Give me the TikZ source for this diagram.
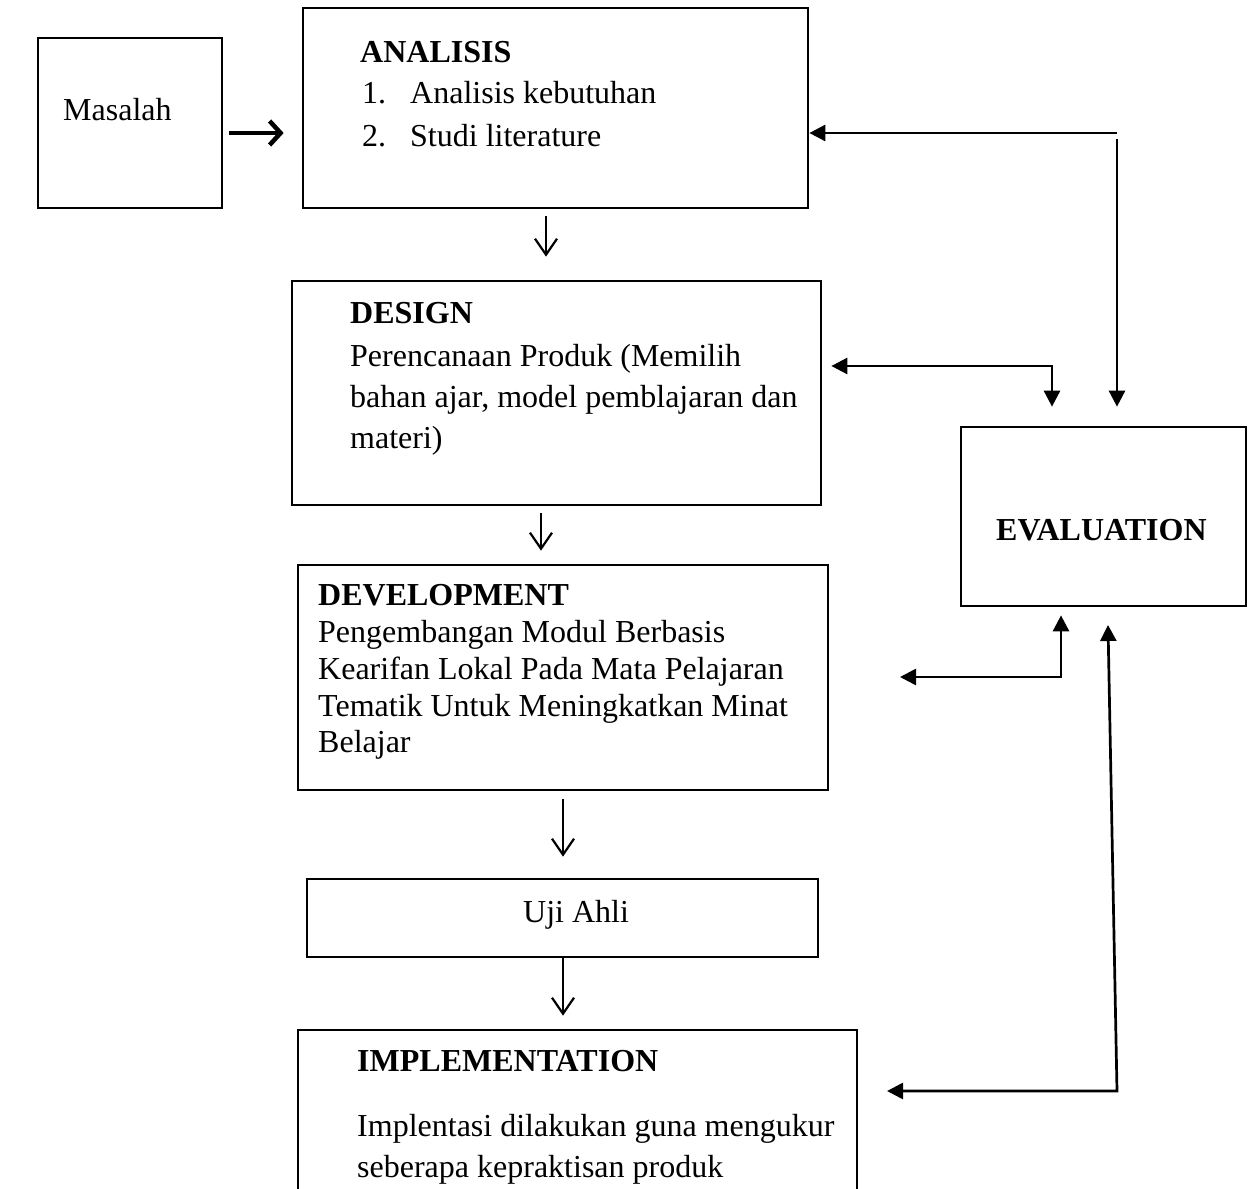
\documentclass[tikz,border=0pt]{standalone}
\usepackage{fontspec}
\setmainfont{Liberation Serif}
\usetikzlibrary{arrows.meta,calc}
\begin{document}
\begin{tikzpicture}[x=1pt,y=-1pt,
  box/.style={draw, line width=2.7pt, inner sep=0pt},
  txt/.style={anchor=base west, inner sep=0pt, font=\fontsize{32}{38}\selectfont},
  btxt/.style={anchor=base west, inner sep=0pt, font=\fontsize{32}{38}\selectfont\bfseries},
  conn/.style={line width=2.7pt},
  tri/.style={conn, -{Triangle[length=16pt,width=16pt]}},
  tritwo/.style={conn, {Triangle[length=16pt,width=16pt]}-{Triangle[length=16pt,width=16pt]}},
  downarr/.style={line width=2.2pt, -{Straight Barb[length=16pt,width=22pt,line width=2.2pt]}},
  boldarr/.style={line width=4pt, -{Straight Barb[length=11pt,width=24pt,line width=4.5pt]}}
]
\clip (0,0) rectangle (1251,1189);
\useasboundingbox (0,0) rectangle (1251,1189);

% boxes
\node[box, minimum width=184pt, minimum height=170pt] (mas) at (130,123) {};
\node[box, minimum width=505pt, minimum height=200pt] (ana) at (555.5,108) {};
\node[box, minimum width=529pt, minimum height=224pt] (des) at (556.5,393) {};
\node[box, minimum width=530pt, minimum height=225pt] (dev) at (563,677.5) {};
\node[box, minimum width=511pt, minimum height=78pt] (uji) at (562.5,918) {};
\node[box, minimum width=559pt, minimum height=180pt] (imp) at (577.5,1120) {};
\node[box, minimum width=285pt, minimum height=179pt] (ev) at (1103.5,516.5) {};

% texts
\node[txt] (tmas) at (63,120) {Masalah};
\node[btxt] (tana) at (360,62) {ANALISIS};
\node[txt] (tana1n) at (362,103) {1.};
\node[txt] (tana1) at (410,103) {Analisis kebutuhan};
\node[txt] (tana2n) at (362,146) {2.};
\node[txt] (tana2) at (410,146) {Studi literature};
\node[btxt] (tdes) at (350,323) {DESIGN};
\node[txt] (tdes1) at (350,366) {Perencanaan Produk (Memilih};
\node[txt] (tdes2) at (350,407) {bahan ajar, model pemblajaran dan};
\node[txt] (tdes3) at (350,448) {materi)};
\node[btxt] (tdev) at (318,605) {DEVELOPMENT};
\node[txt] (tdev1) at (318,642) {Pengembangan Modul Berbasis};
\node[txt] (tdev2) at (318,679) {Kearifan Lokal Pada Mata Pelajaran};
\node[txt] (tdev3) at (318,716) {Tematik Untuk Meningkatkan Minat};
\node[txt] (tdev4) at (318,752) {Belajar};
\node[txt] (tuji) at (523,922) {Uji Ahli};
\node[btxt] (timp) at (357,1071) {IMPLEMENTATION};
\node[txt] (timp1) at (357,1136) {Implentasi dilakukan guna mengukur};
\node[txt] (timp2) at (357,1177) {seberapa kepraktisan produk};
\node[btxt] (tev) at (996,540) {EVALUATION};

% main flow
\draw[boldarr, shorten <=6pt, shorten >=18pt] (mas.east |- 0,133) -- (ana.west |- 0,133);
\draw[downarr, shorten <=7pt, shorten >=23pt] (546,0 |- ana.south) -- (546,0 |- des.north);
\draw[downarr, shorten <=7pt, shorten >=13pt] (541,0 |- des.south) -- (541,0 |- dev.north);
\draw[downarr, shorten <=8pt, shorten >=21pt] (563,0 |- dev.south) -- (563,0 |- uji.north);
\draw[downarr, shorten >=13pt] (563,0 |- uji.south) -- (563,0 |- imp.north);

% evaluation feedback
\coordinate (ra) at (1117,133);
\draw[tri] (ra) -- (ra -| ana.east);
\draw[tri, shorten <=6pt, shorten >=19pt] (ra) -- (ra |- ev.north);

\coordinate (rd) at (1052,366);
\draw[tritwo, shorten <=9pt, shorten >=19pt] (rd -| des.east) -- (rd) -- (rd |- ev.north);

\coordinate (rv) at (1061,677);
\coordinate (lv) at (900,677);
\draw[tritwo, shorten >=8pt] (lv) -- (rv) -- (rv |- ev.south);

\coordinate (ri) at (1117,1091);
\coordinate (li) at (887,1091);
\coordinate (ti) at (1108,625);
\draw[tritwo] (li) -- (ri) -- (ti);
\end{tikzpicture}
\end{document}
